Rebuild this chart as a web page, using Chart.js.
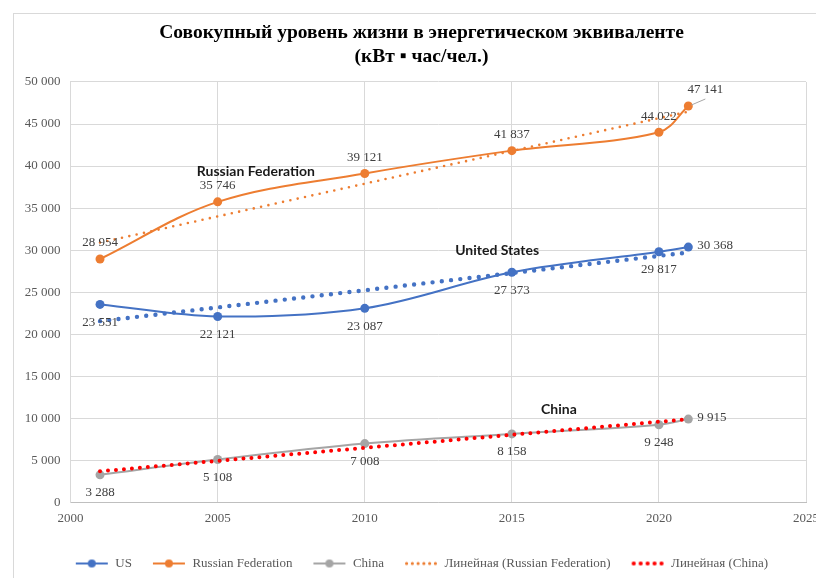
<!DOCTYPE html>
<html>
<head>
<meta charset="utf-8">
<script src="https://cdn.jsdelivr.net/npm/chart.js@4"></script>
<style>
  html, body { margin: 0; padding: 0; background: #fff; overflow: hidden; }
  #frame { position: absolute; left: 13px; top: 13px; border-left: 1px solid #d9d9d9; border-top: 1px solid #d9d9d9; }
  #chart { display: block; }
</style>
</head>
<body>
<div id="frame"><canvas id="chart" width="815" height="566"></canvas></div>
<script>
// data
var years = [2001, 2005, 2010, 2015, 2020, 2021];
var usValues = [23551, 22121, 23087, 27373, 29817, 30368];
var russiaValues = [28954, 35746, 39121, 41837, 44022, 47141];
var chinaValues = [3288, 5108, 7008, 8158, 9248, 9915];

// linear trend lines (end points as drawn in the picture)
var trendYears = [2001, 2021];
var russiaTrend = [30900, 46470];
var usTrend = [21560, 29730];
var chinaTrend = [3710, 9910];

var xTicks = [2000, 2005, 2010, 2015, 2020, 2025];
var yTicks = [0, 5000, 10000, 15000, 20000, 25000, 30000, 35000, 40000, 45000, 50000];

var seriesNames = ['Russian Federation', 'United States', 'China'];
var nameX = [2006.3, 2014.5, 2016.6];
var nameY = [39400, 30000, 11070];

var BLUE = '#4472C4', ORANGE = '#ED7D31', GRAY = '#A5A5A5', RED = '#FF0000';

function fmt(v) {
    return String(v).replace(/\B(?=(\d{3})+(?!\d))/g, ' ');
}

function pts(xs, ys) {
    return xs.map(function (x, i) { return {x: x, y: ys[i]}; });
}

function lineIcon(color) {
    var c = document.createElement('canvas');
    c.width = 34; c.height = 12;
    var g = c.getContext('2d');
    g.strokeStyle = color; g.lineWidth = 2;
    g.beginPath(); g.moveTo(1, 6); g.lineTo(33, 6); g.stroke();
    g.fillStyle = color;
    g.beginPath(); g.arc(17, 6, 4, 0, Math.PI * 2); g.fill();
    return c;
}

function dotIcon(color, n, r) {
    var c = document.createElement('canvas');
    c.width = 34; c.height = 12;
    var g = c.getContext('2d');
    g.fillStyle = color;
    for (var i = 0; i < n; i++) {
        g.beginPath(); g.arc(1 + r + i * (32 - 2 * r) / (n - 1), 6, r, 0, Math.PI * 2); g.fill();
    }
    return c;
}

var legendIcons = [lineIcon(BLUE), lineIcon(ORANGE), lineIcon(GRAY), dotIcon(ORANGE, 6, 1.6), dotIcon(RED, 5, 2.1)];

// value labels next to the points, plus the series names
var pointLabels = {
    id: 'pointLabels',
    afterDatasetsDraw: function (chart) {
        var ctx = chart.ctx;
        ctx.save();
        ctx.font = '13px "Liberation Serif", "Times New Roman", serif';
        ctx.fillStyle = '#404040';
        ctx.textBaseline = 'middle';
        chart.data.datasets.forEach(function (ds, di) {
            if (!ds.labelPos) return;
            var meta = chart.getDatasetMeta(di);
            meta.data.forEach(function (p, i) {
                var pos = ds.labelPos[i];
                var txt = fmt(ds.data[i].y);
                if (pos === 'above') {
                    ctx.textAlign = 'center'; ctx.fillText(txt, p.x, p.y - 16);
                } else if (pos === 'below') {
                    ctx.textAlign = 'center'; ctx.fillText(txt, p.x, p.y + 18);
                } else if (pos === 'right') {
                    ctx.textAlign = 'left'; ctx.fillText(txt, p.x + 9, p.y - 2);
                } else if (pos === 'aboveRight') {
                    ctx.strokeStyle = '#A6A6A6'; ctx.lineWidth = 1;
                    ctx.beginPath(); ctx.moveTo(p.x + 3, p.y - 1); ctx.lineTo(p.x + 17, p.y - 7); ctx.stroke();
                    ctx.textAlign = 'center'; ctx.fillText(txt, p.x + 17, p.y - 16);
                }
            });
        });
        ctx.font = 'bold 14px Lato, "Liberation Sans", sans-serif';
        ctx.fillStyle = '#1a1a1a';
        ctx.textAlign = 'center';
        var xs = chart.scales.x, ys = chart.scales.y;
        seriesNames.forEach(function (n, i) {
            ctx.fillText(n, xs.getPixelForValue(nameX[i]), ys.getPixelForValue(nameY[i]));
        });
        ctx.restore();
    }
};

var ctx = document.getElementById('chart').getContext('2d');
new Chart(ctx, {
    type: 'line',
    data: {
        datasets: [{
            label: 'US',
            data: pts(years, usValues),
            borderColor: BLUE, backgroundColor: BLUE,
            borderWidth: 2, pointRadius: 4.5, pointBorderWidth: 0, tension: 0.35,
            labelPos: ['below', 'below', 'below', 'below', 'below', 'right']
        }, {
            label: 'Russian Federation',
            data: pts(years, russiaValues),
            borderColor: ORANGE, backgroundColor: ORANGE,
            borderWidth: 2, pointRadius: 4.5, pointBorderWidth: 0, tension: 0.35,
            labelPos: ['above', 'above', 'above', 'above', 'above', 'aboveRight']
        }, {
            label: 'China',
            data: pts(years, chinaValues),
            borderColor: GRAY, backgroundColor: GRAY,
            borderWidth: 2, pointRadius: 4.5, pointBorderWidth: 0, tension: 0.35,
            labelPos: ['below', 'below', 'below', 'below', 'below', 'right']
        }, {
            label: 'Линейная (Russian Federation)',
            data: pts(trendYears, russiaTrend),
            borderColor: ORANGE, borderWidth: 2.6, borderDash: [0, 7.5], borderCapStyle: 'round',
            pointRadius: 0, order: -1
        }, {
            label: 'Линейная (China)',
            data: pts(trendYears, chinaTrend),
            borderColor: RED, borderWidth: 4, borderDash: [0, 8], borderCapStyle: 'round',
            pointRadius: 0, order: -1
        }, {
            label: 'Линейная (US)',
            data: pts(trendYears, usTrend),
            borderColor: BLUE, borderWidth: 4.4, borderDash: [0, 9.3], borderCapStyle: 'round',
            pointRadius: 0, order: -1
        }]
    },
    plugins: [pointLabels],
    options: {
        responsive: false,
        animation: false,
        layout: { padding: 0 },
        scales: {
            x: {
                type: 'linear', min: 2000, max: 2025,
                afterBuildTicks: function (s) { s.ticks = xTicks.map(function (v) { return {value: v}; }); },
                afterFit: function (s) { s.height = 34.5; s.paddingLeft = 0; s.paddingRight = 0; },
                grid: { color: '#d9d9d9', drawTicks: false },
                border: { color: '#bfbfbf' },
                ticks: {
                    padding: 8, color: '#595959', maxRotation: 0,
                    font: { family: '"Liberation Serif", serif', size: 13 },
                    callback: function (v) { return String(v); }
                }
            },
            y: {
                min: 0, max: 50000,
                afterBuildTicks: function (s) { s.ticks = yTicks.map(function (v) { return {value: v}; }); },
                afterFit: function (s) { s.width = 56.6; s.paddingTop = 0; s.paddingBottom = 0; },
                grid: { color: '#d9d9d9', drawTicks: false },
                border: { color: '#d9d9d9' },
                ticks: {
                    padding: 10, color: '#595959',
                    font: { family: '"Liberation Serif", serif', size: 13 },
                    callback: function (v) { return fmt(v); }
                }
            },
            // empty right-hand spacer so title and legend sit centred like the original
            y2: {
                position: 'right', axis: 'y', min: 0, max: 50000,
                grid: { display: false }, border: { display: false }, ticks: { display: false },
                afterFit: function (s) { s.width = 23; s.paddingTop = 0; s.paddingBottom = 0; }
            }
        },
        plugins: {
            title: {
                display: true,
                text: ['Совокупный уровень жизни в энергетическом эквиваленте', '(кВт ▪ час/чел.)'],
                color: '#000',
                font: { family: '"Liberation Serif", "Times New Roman", serif', size: 19.5, weight: 'bold', lineHeight: 1.23 },
                padding: { top: 7, bottom: 13 }
            },
            legend: {
                position: 'bottom',
                labels: {
                    usePointStyle: true,
                    pointStyleWidth: 34,
                    padding: 20,
                    color: '#595959',
                    font: { family: '"Liberation Serif", serif', size: 13 },
                    filter: function (item) { return item.datasetIndex < 5; },
                    sort: function (a, b) { return a.datasetIndex - b.datasetIndex; },
                    generateLabels: function (chart) {
                        var items = Chart.defaults.plugins.legend.labels.generateLabels(chart);
                        items.forEach(function (it) {
                            if (it.datasetIndex < 5) it.pointStyle = legendIcons[it.datasetIndex];
                        });
                        return items;
                    }
                }
            },
            tooltip: { enabled: false }
        }
    }
});
</script>
</body>
</html>
